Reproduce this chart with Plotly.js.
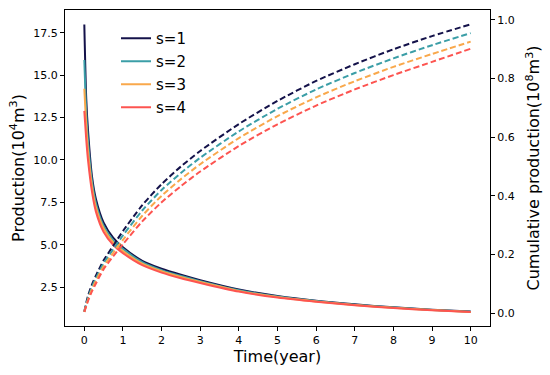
<!DOCTYPE html>
<html>
<head>
<meta charset="utf-8">
<script src="https://cdn.plot.ly/plotly-3.0.1.min.js"></script>
<style>html,body{margin:0;padding:0;background:#fff;}#chart{width:550px;height:375px;}</style>
</head>
<body>
<div id="chart"></div>
<script>
// Time grid (years)
const time = [0, 0.05, 0.1, 0.2, 0.3, 0.5, 0.75, 1, 1.5, 2, 2.5, 3, 4, 5, 6, 7, 8, 9, 10];

// Production (10^4 m^3)
const prod_s1 = [18.0, 13.6, 11.6, 9.0, 7.7, 6.3, 5.4, 4.85, 4.05, 3.58, 3.22, 2.9, 2.35, 1.97, 1.69, 1.48, 1.3, 1.16, 1.05];
const prod_s2 = [15.9, 12.8, 11.0, 8.7, 7.45, 6.1, 5.25, 4.75, 3.97, 3.5, 3.15, 2.85, 2.31, 1.94, 1.67, 1.46, 1.29, 1.15, 1.04];
const prod_s3 = [14.2, 12.0, 10.4, 8.4, 7.2, 5.95, 5.12, 4.62, 3.88, 3.43, 3.09, 2.8, 2.27, 1.91, 1.65, 1.44, 1.28, 1.14, 1.03];
const prod_s4 = [12.9, 11.2, 9.9, 8.1, 6.95, 5.75, 4.98, 4.5, 3.79, 3.35, 3.02, 2.74, 2.23, 1.88, 1.63, 1.42, 1.26, 1.13, 1.02];

// Cumulative production (10^8 m^3)
const cum_s1 = [0.005, 0.035, 0.06, 0.098, 0.128, 0.18, 0.23, 0.28, 0.368, 0.44, 0.5, 0.553, 0.645, 0.724, 0.792, 0.849, 0.9, 0.945, 0.985];
const cum_s2 = [0.005, 0.03, 0.053, 0.09, 0.119, 0.17, 0.218, 0.265, 0.35, 0.42, 0.478, 0.53, 0.62, 0.697, 0.763, 0.819, 0.869, 0.914, 0.955];
const cum_s3 = [0.004, 0.027, 0.047, 0.082, 0.11, 0.16, 0.206, 0.25, 0.332, 0.4, 0.457, 0.508, 0.597, 0.672, 0.736, 0.791, 0.84, 0.884, 0.926];
const cum_s4 = [0.004, 0.024, 0.043, 0.075, 0.101, 0.15, 0.194, 0.235, 0.313, 0.378, 0.433, 0.483, 0.57, 0.644, 0.708, 0.763, 0.812, 0.857, 0.902];

const seriesNames = ['s=1', 's=2', 's=3', 's=4'];
const colors = ['#14124a', '#3b9ea7', '#f9a84b', '#fd5450'];
const prods = [prod_s1, prod_s2, prod_s3, prod_s4];
const cums = [cum_s1, cum_s2, cum_s3, cum_s4];

const traces = [];
prods.forEach((p, i) => {
  traces.push({x: time, y: p, type: 'scatter', mode: 'lines', name: seriesNames[i],
    legendgroup: 'g' + i,
    line: {color: colors[i], width: 2, shape: 'spline', smoothing: 0.7}, yaxis: 'y', xaxis: 'x'});
});
cums.forEach((c, i) => {
  traces.push({x: time, y: c, type: 'scatter', mode: 'lines', name: seriesNames[i], showlegend: false,
    legendgroup: 'g' + i,
    line: {color: colors[i], width: 2, dash: '6px,3px', shape: 'spline', smoothing: 0.7}, yaxis: 'y2', xaxis: 'x'});
});

const ff = 'DejaVu Sans, sans-serif';
const tickfont = {size: 11, family: ff, color: '#000'};
const titlefont = {size: 16, family: ff, color: '#000'};
const layout = {
  width: 550, height: 375,
  margin: {l: 65, r: 60, t: 10, b: 49},
  paper_bgcolor: '#fff', plot_bgcolor: '#fff',
  font: {family: ff, color: '#000'},
  showlegend: true,
  legend: {x: 0.12, y: 0.962, xanchor: 'left', yanchor: 'top', bgcolor: 'rgba(0,0,0,0)',
    font: {family: ff, size: 15, color: '#000'}, tracegroupgap: 0.5},
  xaxis: {range: [-0.5, 10.5], tick0: 0, dtick: 1, showgrid: false, zeroline: false,
    showline: true, linecolor: '#000', linewidth: 1, mirror: true,
    ticks: 'outside', ticklen: 4, tickcolor: '#000', tickfont: tickfont,
    title: {text: 'Time(year)', font: titlefont, standoff: 4}},
  yaxis: {range: [0.2, 18.85], tick0: 0, dtick: 2.5, tickformat: '.1f', showgrid: false, zeroline: false,
    showline: true, linecolor: '#000', linewidth: 1, mirror: true,
    ticks: 'outside', ticklen: 4, tickcolor: '#000', tickfont: tickfont,
    title: {text: 'Production(10<sup>4</sup>m<sup>3</sup>)', font: titlefont, standoff: 4}},
  yaxis2: {range: [-0.044, 1.034], tick0: 0, dtick: 0.2, tickformat: '.1f', overlaying: 'y', side: 'right',
    showgrid: false, zeroline: false, showline: true, linecolor: '#000', linewidth: 1,
    ticks: 'outside', ticklen: 4, tickcolor: '#000', tickfont: tickfont,
    title: {text: 'Cumulative production(10<sup>8</sup>m<sup>3</sup>)', font: titlefont, standoff: 14}}
};

Plotly.newPlot('chart', traces, layout, {displayModeBar: false, staticPlot: true});
</script>
</body>
</html>
